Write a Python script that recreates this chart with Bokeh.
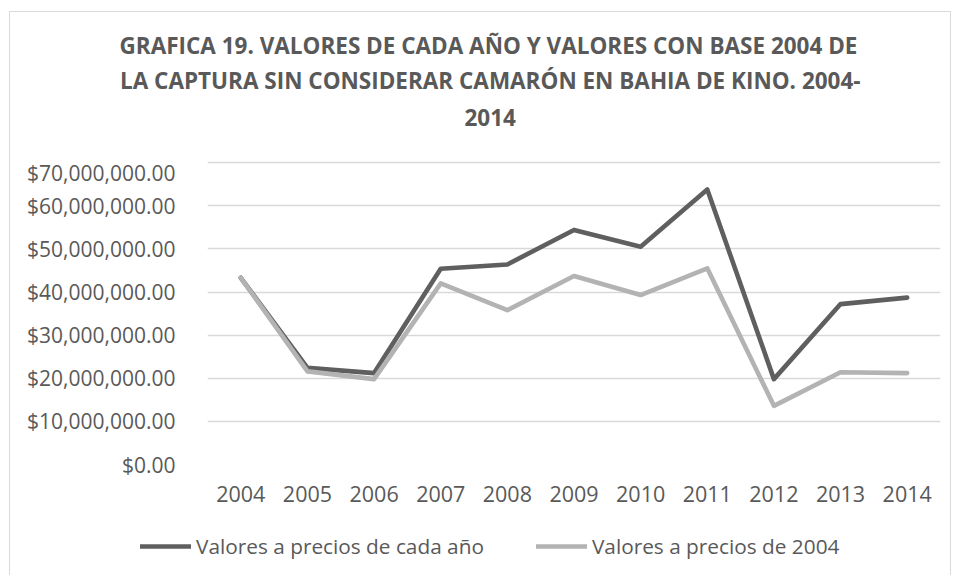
from bokeh.plotting import figure
from bokeh.layouts import column
from bokeh.models import (ColumnDataSource, FactorRange, Range1d, Title, Legend, LegendItem,
                          NumeralTickFormatter, SingleIntervalTicker)
from bokeh.embed import file_html
from bokeh.resources import INLINE

years = ["2004", "2005", "2006", "2007", "2008", "2009", "2010", "2011", "2012", "2013", "2014"]
valores_cada_anio = [43.3e6, 22.4e6, 21.2e6, 45.4e6, 46.4e6, 54.4e6, 50.5e6, 63.8e6, 19.8e6, 37.2e6, 38.7e6]
valores_2004 = [43.3e6, 21.6e6, 19.8e6, 42.0e6, 35.8e6, 43.7e6, 39.3e6, 45.5e6, 13.6e6, 21.4e6, 21.2e6]
series_names = ["Valores a precios de cada año", "Valores a precios de 2004"]
title_lines = ["GRAFICA 19. VALORES DE CADA AÑO Y VALORES CON BASE 2004 DE",
               "LA CAPTURA SIN CONSIDERAR CAMARÓN EN BAHIA DE KINO. 2004-",
               "2014"]

TXT = "#595959"
FONT = "Open Sans"
DARK = "#5f5f5f"
LIGHT = "#b3b3b3"
W = 940

def bare(fig):
    fig.outline_line_color = None
    fig.background_fill_color = "white"
    fig.border_fill_color = "white"
    return fig

# ---- title strip (titles stacked above an empty frame)
pt = bare(figure(width=W, height=146, x_range=Range1d(0, 1), y_range=Range1d(0, 1),
                 x_axis_location=None, y_axis_location=None, output_backend="svg",
                 toolbar_location=None, min_border=0, min_border_top=122))
pt.grid.visible = False
title_offsets = [257, -87.5, -88]      # innermost (last line) first
title_standoffs = [18, 2.4, 2.4]
for t, off, so in zip(reversed(title_lines), title_offsets, title_standoffs):
    pt.add_layout(Title(text=t, align="left", offset=off, standoff=so,
                        text_font=FONT, text_font_size="22.5px", text_font_style="bold",
                        text_color=TXT), "above")

# ---- main chart
src = ColumnDataSource(dict(x=years, a=valores_cada_anio, b=valores_2004))
p = bare(figure(width=W, height=362, x_range=FactorRange(*years), y_range=Range1d(0, 70.5e6),
                output_backend="svg", toolbar_location=None,
                min_border_left=197, min_border_right=10, min_border_top=2, min_border_bottom=56))

r1 = p.line("x", "a", source=src, line_color=DARK, line_width=4.6, line_cap="round", line_join="round")
r2 = p.line("x", "b", source=src, line_color=LIGHT, line_width=4.6, line_cap="round", line_join="round")

p.xgrid.grid_line_color = None
p.ygrid.grid_line_color = "#d9d9d9"
p.ygrid.grid_line_width = 1.3
p.yaxis.ticker = SingleIntervalTicker(interval=10e6)
p.yaxis.formatter = NumeralTickFormatter(format="$0,0.00")
for ax in (p.xaxis, p.yaxis):
    ax.axis_line_color = None
    ax.major_tick_line_color = None
    ax.minor_tick_line_color = None
    ax.major_label_text_font = FONT
    ax.major_label_text_color = TXT
p.yaxis.major_label_text_font_size = "21px"
p.xaxis.major_label_text_font_size = "21.5px"
p.yaxis.major_label_standoff = 26
p.xaxis.major_label_standoff = 15

# ---- legend strip (shifted left so the legend starts left of the aligned frame)
pl = figure(width=W, height=55, x_range=Range1d(0, 1), y_range=Range1d(0, 1),
            x_axis_location=None, y_axis_location=None, output_backend="svg",
            toolbar_location=None, min_border=0)
pl.outline_line_color = None
pl.background_fill_color = None
pl.border_fill_color = None
pl.grid.visible = False
nan = float("nan")
g1 = pl.line(x=[0.0, 1.0], y=[nan, nan], line_color=DARK, line_width=4.6, line_cap="round")
g2 = pl.line(x=[0.0, 1.0], y=[nan, nan], line_color=LIGHT, line_width=4.6, line_cap="round")
legend = Legend(items=[LegendItem(label=series_names[0], renderers=[g1]),
                       LegendItem(label=series_names[1], renderers=[g2])],
                orientation="horizontal", location=(0, 15),
                glyph_width=51, glyph_height=20, label_height=20, label_standoff=5, spacing=52,
                padding=0, margin=0, border_line_color=None, background_fill_alpha=0,
                label_text_font=FONT, label_text_font_size="20.8px", label_text_color=TXT)
pl.add_layout(legend, "center")
pl.styles = {"position": "relative", "left": "-67px"}

layout = column(pt, p, pl, spacing=0)
layout.styles = {"position": "relative", "left": "9px", "top": "11px",
                 "border": "1px solid #d9d9d9", "border-bottom": "none"}

open("out.html", "w").write(file_html(layout, INLINE))
